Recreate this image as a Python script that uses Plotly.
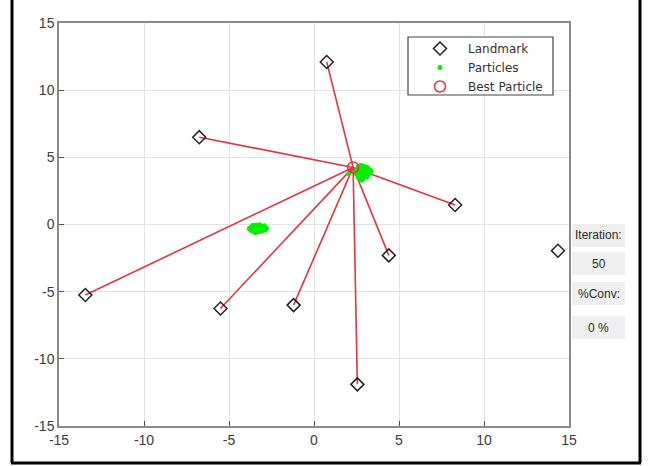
import plotly.graph_objects as go

# ---- data ----
landmark_x = [0.75, -6.75, 8.3, 14.35, 4.4, -13.45, -5.5, -1.2, 2.55]
landmark_y = [12.1, 6.5, 1.45, -1.95, -2.3, -5.25, -6.25, -6.0, -11.9]
linked = [True, True, True, False, True, True, True, True, True]

best_x = [2.3]
best_y = [4.25]

particles_x = [2.45, 2.55, 2.62, 2.70, 2.78, 2.85, 2.92, 3.00, 3.08, 3.15, 3.22, 3.30,
               2.50, 2.60, 2.68, 2.75, 2.83, 2.95, 3.05, 3.12, 3.20, 3.28, 2.58, 2.66,
               2.74, 2.88, 2.98, 3.10, 3.18, 2.64, 2.72, 2.80, 2.90, 3.02, 2.70, 2.86,
               2.96, 2.06, 3.35, 2.52, 2.60, 2.78, 3.14,
               -3.80, -3.70, -3.62, -3.55, -3.48, -3.40, -3.32, -3.25, -3.18, -3.10,
               -3.02, -2.95, -2.88, -2.80, -3.72, -3.60, -3.50, -3.38, -3.28, -3.15,
               -3.05, -2.92, -2.84, -3.66, -3.45, -3.35, -3.20, -3.00, -2.90, -3.55,
               -3.42, -3.12, -3.30, -3.58]
particles_y = [3.90, 4.10, 3.70, 4.20, 3.60, 4.35, 3.50, 4.30, 3.65, 4.25, 3.95, 4.05,
               3.75, 4.30, 3.45, 4.00, 4.15, 3.85, 4.20, 3.55, 4.10, 3.80, 3.95, 3.60,
               4.40, 3.40, 4.00, 3.90, 3.70, 4.15, 3.85, 3.30, 4.25, 3.75, 4.05, 3.65,
               3.95, 3.80, 3.95, 4.00, 3.50, 4.30, 4.20,
               -0.30, -0.20, -0.45, -0.10, -0.35, -0.05, -0.40, -0.25, -0.50, -0.15,
               -0.35, -0.20, -0.40, -0.28, -0.42, -0.12, -0.55, -0.22, -0.08, -0.48,
               -0.30, -0.10, -0.25, -0.32, -0.60, -0.18, -0.02, -0.45, -0.36, -0.25,
               -0.22, -0.30, -0.52, -0.05]

tick_vals = [-15, -10, -5, 0, 5, 10, 15]
tick_text = ["-15", "-10", "-5", "0", "5", "10", "15"]
panel_texts = ["Iteration:", "50", "%Conv:", "0 %"]

# ---- layout geometry helpers (pixels -> paper) ----
W, H = 652, 466
L, R, T, B = 59, 569, 23, 426


def px(x):
    return (x - L) / (R - L)


def py(y):
    return (B - y) / (B - T)


line_x, line_y = [], []
for lx, ly, ok in zip(landmark_x, landmark_y, linked):
    if ok:
        line_x += [best_x[0], lx, None]
        line_y += [best_y[0], ly, None]

fig = go.Figure()
fig.add_trace(go.Scatter(x=line_x, y=line_y, mode="lines",
                         line=dict(color="#e3343f", width=1.6),
                         showlegend=False, hoverinfo="skip"))
fig.add_trace(go.Scatter(x=landmark_x, y=landmark_y, mode="markers", name="Landmark",
                         marker=dict(symbol="diamond-open", size=10,
                                     color="#222222", line=dict(width=1.5))))
fig.add_trace(go.Scatter(x=particles_x, y=particles_y, mode="markers", name="Particles",
                         marker=dict(symbol="circle", size=5, color="#00f000")))
fig.add_trace(go.Scatter(x=best_x, y=best_y, mode="markers", name="Best Particle",
                         marker=dict(symbol="circle-open", size=11,
                                     color="#e3343f", line=dict(width=1.5))))

axis_common = dict(range=[-15, 15], tickvals=tick_vals, ticktext=tick_text, showgrid=True,
                   gridcolor="#e3e3e3", zeroline=False, showline=True,
                   linecolor="#8a8a8a", linewidth=1.5, mirror=True,
                   ticks="inside", ticklen=5, tickcolor="#555555",
                   tickfont=dict(family="Liberation Sans, Arial", size=14, color="#3a3a3a"))
fig.update_xaxes(**axis_common)
fig.update_yaxes(**axis_common)

shapes = []
# outer black frame (left, bottom, right)
for (x0, y0, x1, y1) in [(12, -5, 12, 463), (11, 463, 641, 463), (640, -5, 640, 463)]:
    shapes.append(dict(type="line", xref="paper", yref="paper",
                       x0=px(x0), y0=py(y0), x1=px(x1), y1=py(y1),
                       line=dict(color="black", width=3)))
# legend box
shapes.append(dict(type="rect", xref="paper", yref="paper",
                   x0=px(408), y0=py(95), x1=px(553), y1=py(37),
                   fillcolor="white", line=dict(color="#444444", width=1.2)))

panel_boxes = [(572, 224, 625, 247), (572, 252, 625, 275), (572, 282, 625, 305), (572, 316, 625, 339)]
annotations = []
for (x0, y0, x1, y1), txt in zip(panel_boxes, panel_texts):
    shapes.append(dict(type="rect", xref="paper", yref="paper", layer="below",
                       x0=px(x0), y0=py(y1), x1=px(x1), y1=py(y0),
                       fillcolor="#efefef", line=dict(width=0)))
    annotations.append(dict(xref="paper", yref="paper", x=px((x0 + x1) / 2),
                            y=py((y0 + y1) / 2), text=txt, showarrow=False,
                            xanchor="center", yanchor="middle",
                            font=dict(family="Liberation Sans, Arial", size=12, color="#2a2a2a")))

fig.update_layout(
    width=W, height=H,
    margin=dict(l=L, r=W - R, t=T, b=H - B),
    paper_bgcolor="white", plot_bgcolor="white",
    shapes=shapes, annotations=annotations,
    legend=dict(x=px(412), y=py(34), xanchor="left", yanchor="top",
                bgcolor="rgba(0,0,0,0)", borderwidth=0,
                font=dict(family="DejaVu Sans", size=12, color="#333333"),
                tracegroupgap=0, itemwidth=46),
)

fig.write_html("out.html", config={"displayModeBar": False},
               post_script="document.body.style.margin='0px';")
